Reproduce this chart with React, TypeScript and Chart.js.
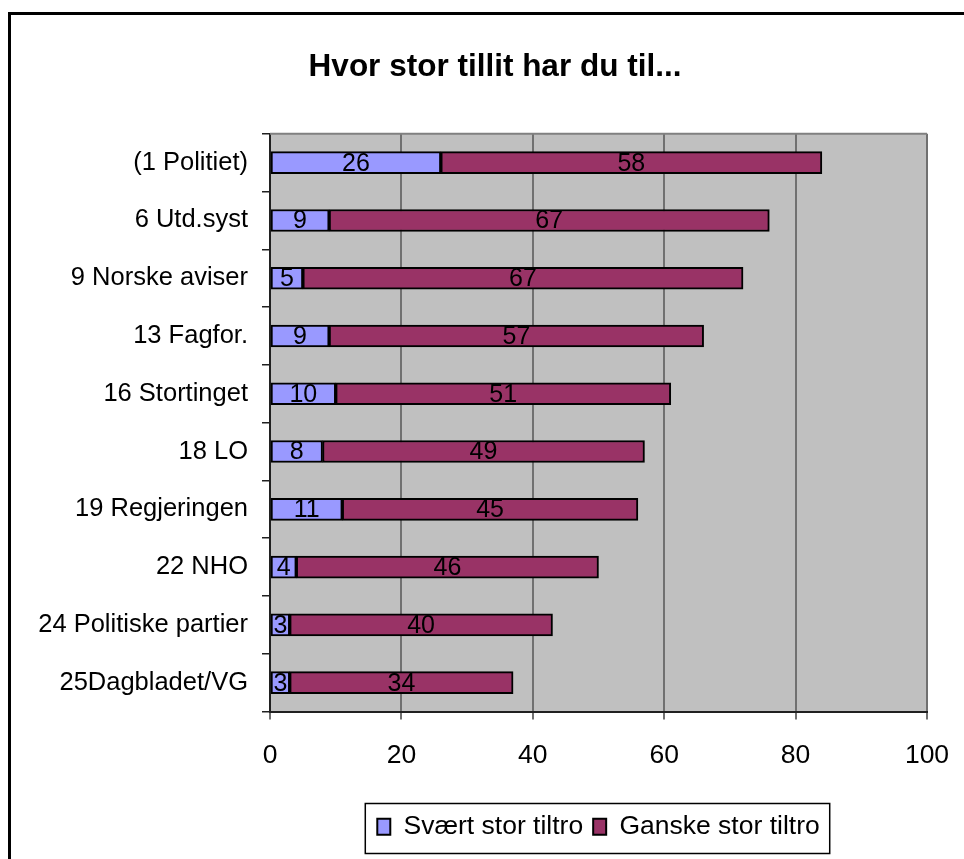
import React, { useEffect, useRef } from "react";
import { Chart, registerables } from "chart.js";

Chart.register(...registerables);

const categories = [
  "(1 Politiet)",
  "6 Utd.syst",
  "9 Norske aviser",
  "13 Fagfor.",
  "16 Stortinget",
  "18 LO",
  "19 Regjeringen",
  "22 NHO",
  "24 Politiske partier",
  "25Dagbladet/VG",
];
const svaertStor = [26, 9, 5, 9, 10, 8, 11, 4, 3, 3];
const ganskeStor = [58, 67, 67, 57, 51, 49, 45, 46, 40, 34];
const seriesNames = ["Svært stor tiltro", "Ganske stor tiltro"];
const xTicks = [0, 20, 40, 60, 80, 100];
const titleText = "Hvor stor tillit har du til...";

const FONT = "'Liberation Sans', Arial, sans-serif";
const CANVAS_W = 990;
const CANVAS_H = 859;

const plotDecor = {
  id: "plotDecor",
  beforeDraw(chart: any) {
    const { ctx, chartArea } = chart;
    ctx.save();
    ctx.fillStyle = "#C0C0C0";
    ctx.fillRect(chartArea.left, chartArea.top, chartArea.right - chartArea.left, chartArea.bottom - chartArea.top);
    ctx.restore();
  },
  afterDraw(chart: any) {
    const { ctx, chartArea } = chart;
    ctx.save();
    ctx.strokeStyle = "#808080";
    ctx.lineWidth = 2;
    ctx.beginPath();
    ctx.moveTo(chartArea.left, chartArea.top);
    ctx.lineTo(chartArea.right, chartArea.top);
    ctx.stroke();
    const lg = chart.legend;
    if (lg && lg.legendHitBoxes && lg.legendHitBoxes.length) {
      const boxes = lg.legendHitBoxes;
      const l = boxes[0].left - 12;
      const r = boxes[boxes.length - 1].left + boxes[boxes.length - 1].width + 10;
      ctx.strokeStyle = "#000";
      ctx.lineWidth = 1.5;
      ctx.strokeRect(l, lg.top, r - l, 50);
    }
    ctx.restore();
  },
};

const valueLabels = {
  id: "valueLabels",
  afterDatasetsDraw(chart: any) {
    const { ctx } = chart;
    ctx.save();
    ctx.font = `25px ${FONT}`;
    ctx.fillStyle = "#000";
    ctx.textAlign = "center";
    ctx.textBaseline = "middle";
    chart.data.datasets.forEach((ds: any, di: number) => {
      const meta = chart.getDatasetMeta(di);
      meta.data.forEach((bar: any, i: number) => {
        const cx = (bar.x + bar.base) / 2;
        ctx.fillText(String(ds.data[i]), cx, bar.y + 1);
      });
    });
    ctx.restore();
  },
};

export default function App() {
  const ref = useRef<HTMLCanvasElement | null>(null);

  useEffect(() => {
    if (!ref.current) return;
    const chart = new Chart(ref.current, {
      type: "bar",
      data: {
        labels: categories,
        datasets: [
          {
            label: seriesNames[0],
            data: svaertStor,
            backgroundColor: "#9999FF",
            borderColor: "#000",
            borderWidth: 2,
            borderSkipped: false,
            barThickness: 22,
          },
          {
            label: seriesNames[1],
            data: ganskeStor,
            backgroundColor: "#993366",
            borderColor: "#000",
            borderWidth: 2,
            borderSkipped: false,
            barThickness: 22,
          },
        ],
      },
      options: {
        indexAxis: "y",
        animation: false,
        responsive: false,
        maintainAspectRatio: false,
        layout: { padding: { left: 0, right: 0, top: 0, bottom: 9 } },
        scales: {
          x: {
            stacked: true,
            min: 0,
            max: 100,
            afterBuildTicks: (scale: any) => {
              scale.ticks = xTicks.map((v) => ({ value: v }));
            },
            afterFit: (scale: any) => {
              scale.height = 92;
            },
            ticks: {
              color: "#000",
              font: { family: FONT, size: 26.5 },
              padding: 20,
            },
            grid: {
              color: "#707070",
              lineWidth: 2,
              tickLength: 8,
              drawOnChartArea: true,
            },
            border: { color: "#202020", width: 2 },
          },
          y: {
            stacked: true,
            afterFit: (scale: any) => {
              scale.width = 270;
            },
            ticks: {
              color: "#000",
              font: { family: FONT, size: 25.5 },
              padding: 14,
            },
            grid: {
              drawOnChartArea: false,
              color: "#202020",
              lineWidth: 1.5,
              tickLength: 8,
              offset: true,
            },
            border: { color: "#202020", width: 2 },
          },
          spacer: {
            type: "category",
            position: "right",
            labels: categories,
            afterFit: (scale: any) => {
              scale.width = CANVAS_W - 927;
            },
            ticks: { display: false },
            grid: { display: false },
            border: { display: false },
          },
        },
        plugins: {
          title: {
            display: true,
            text: titleText,
            color: "#000",
            font: { family: FONT, size: 31.5, weight: "bold" },
            padding: { top: 48, bottom: 48 },
          },
          legend: {
            display: true,
            position: "bottom",
            fullSize: false,
            labels: {
              color: "#000",
              font: { family: FONT, size: 26.5 },
              boxWidth: 13,
              boxHeight: 16,
              padding: 10,
            },
          },
          tooltip: { enabled: false },
        },
      },
      plugins: [plotDecor, valueLabels],
    } as any);
    return () => chart.destroy();
  }, []);

  return (
    <div
      style={{
        position: "absolute",
        left: 0,
        top: 0,
        width: 964,
        height: 859,
        overflow: "hidden",
        background: "#fff",
      }}
    >
      <div
        style={{
          position: "absolute",
          left: 8,
          top: 12,
          width: 1000,
          height: 900,
          borderLeft: "3px solid #000",
          borderTop: "3px solid #000",
          boxSizing: "border-box",
        }}
      />
      <canvas
        ref={ref}
        width={CANVAS_W}
        height={CANVAS_H}
        style={{ position: "absolute", left: 0, top: 0, display: "block" }}
      />
    </div>
  );
}
